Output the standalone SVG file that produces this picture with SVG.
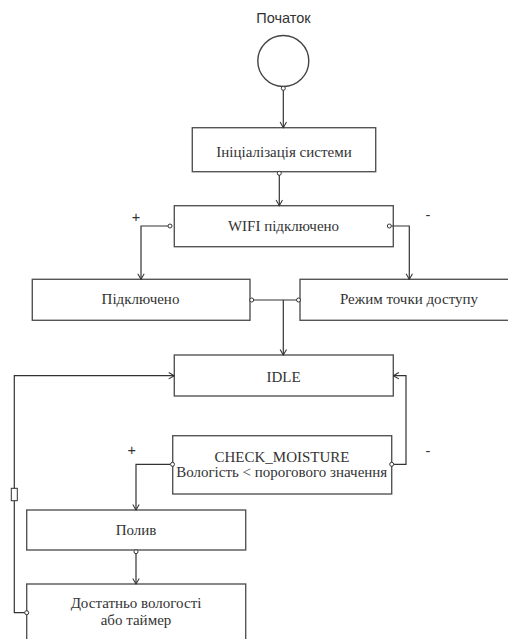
<svg xmlns="http://www.w3.org/2000/svg" width="508" height="639" viewBox="0 0 508 639">
<defs>
<marker id="arr" viewBox="0 0 10 10" refX="9" refY="5" markerWidth="8" markerHeight="8" markerUnits="userSpaceOnUse" orient="auto">
<path d="M2,1 L9,5 L2,9" fill="none" stroke="#333" stroke-width="1.3"/>
</marker>
<style>
.box{fill:#fff;stroke:#555;stroke-width:1.4}
.t{font-family:"Liberation Serif","Times New Roman",serif;font-size:15px;fill:#333;text-anchor:middle}
.s{font-family:"Liberation Sans",Arial,sans-serif;font-size:14.5px;fill:#333;text-anchor:middle}
.c{fill:none;stroke:#333;stroke-width:1.2}
.a{marker-end:url(#arr)}
.p{fill:#fff;stroke:#333;stroke-width:1}
</style>
</defs>
<rect width="508" height="639" fill="#fff"/>

<g id="start">
<text class="s" x="283.5" y="23">Початок</text>
<circle cx="283.3" cy="61" r="25.5" fill="#fff" stroke="#444" stroke-width="1.4"/>
</g>
<g id="init">
<rect class="box" x="192.3" y="127.7" width="183.4" height="44"/>
<text class="t" x="284" y="156.7">Ініціалізація системи</text>
</g>
<g id="wifi">
<rect class="box" x="174.3" y="205.7" width="219" height="41"/>
<text class="t" x="283.5" y="230.7">WIFI підключено</text>
</g>
<g id="connected">
<rect class="box" x="32.3" y="279.3" width="217.7" height="41"/>
<text class="t" x="140.5" y="304.3">Підключено</text>
</g>
<g id="ap">
<rect class="box" x="300" y="279.3" width="220" height="41"/>
<text class="t" x="409" y="304.3">Режим точки доступу</text>
</g>
<g id="idle">
<rect class="box" x="174.3" y="355" width="219" height="41"/>
<text class="t" x="283.5" y="381.7">IDLE</text>
</g>
<g id="check">
<rect class="box" x="172.7" y="435.7" width="219" height="58.3"/>
<text class="t" x="282" y="461.7">CHECK_MOISTURE</text>
<text class="t" x="281.7" y="477.3">Вологість &lt; порогового значення</text>
</g>
<g id="water">
<rect class="box" x="26.7" y="510" width="219" height="40"/>
<text class="t" x="136" y="535">Полив</text>
</g>
<g id="done">
<rect class="box" x="26.7" y="584" width="219" height="70"/>
<text class="t" x="136" y="608.3">Достатньо вологості</text>
<text class="t" x="136" y="625">або таймер</text>
</g>

<g id="connectors">
<path class="c a" d="M283.3,88.5 V127.7"/>
<path class="c a" d="M279.3,173.5 V205.7"/>
<path class="c a" d="M168,226 H141 V279.3"/>
<path class="c a" d="M391.3,226 H409.3 V279.3"/>
<path class="c" d="M253.7,300 H296.5"/>
<path class="c a" d="M283.3,300 V355"/>
<path class="c a" d="M393.7,464.3 H406 V375.7 H393.3"/>
<path class="c a" d="M170.5,464.3 H136 V510"/>
<path class="c a" d="M136,553.5 V584"/>
<path class="c a" d="M24.7,612.7 H14.3 V375.7 H174.3"/>
<rect x="11.3" y="488.3" width="6" height="12.4" fill="#fff" stroke="#333" stroke-width="1"/>
<circle class="p" cx="283.3" cy="88.3" r="2"/>
<circle class="p" cx="279.3" cy="173.3" r="2"/>
<circle class="p" cx="170" cy="226" r="2"/>
<circle class="p" cx="389.3" cy="226" r="2"/>
<circle class="p" cx="251.7" cy="300" r="2"/>
<circle class="p" cx="298.5" cy="300" r="2"/>
<circle class="p" cx="391.7" cy="464.3" r="2"/>
<circle class="p" cx="172.5" cy="464.3" r="2"/>
<circle class="p" cx="136" cy="551.7" r="2"/>
<circle class="p" cx="26.7" cy="612.7" r="2"/>
<text class="s" x="136" y="222" font-size="13">+</text>
<text class="s" x="428" y="220" font-size="13">-</text>
<text class="s" x="131.7" y="455" font-size="13">+</text>
<text class="s" x="428" y="456" font-size="13">-</text>
</g>
</svg>
